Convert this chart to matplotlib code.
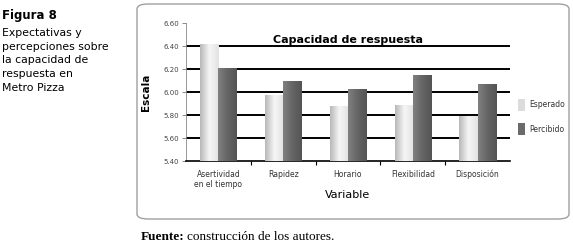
import numpy as np
import matplotlib
matplotlib.use('Agg')
import matplotlib.pyplot as plt
from matplotlib.patches import FancyBboxPatch, Rectangle
from matplotlib.colors import LinearSegmentedColormap

# Data
categorias = ['Asertividad\nen el tiempo', 'Rapidez', 'Horario', 'Flexibilidad', 'Disposición']
esperado = [6.42, 5.98, 5.88, 5.89, 5.79]
percibido = [6.21, 6.10, 6.03, 6.15, 6.07]
yticks = [5.40, 5.60, 5.80, 6.00, 6.20, 6.40, 6.60]

fig = plt.figure(figsize=(5.73, 2.46), dpi=100)
fig.patch.set_facecolor('white')

# rounded frame around the chart
frame = FancyBboxPatch((137 / 573, 1 - 219 / 246), 432 / 573, 215 / 246,
                       boxstyle='round,pad=0,rounding_size=0.02',
                       transform=fig.transFigure, facecolor='none',
                       edgecolor='#a0a0a0', linewidth=1.0, zorder=-1)
fig.patches.append(frame)

ax = fig.add_axes([186 / 573, 84.7 / 246, 324 / 573, 138 / 246])
ax.set_facecolor('none')

x = np.arange(len(categorias))
w = 0.28
light = LinearSegmentedColormap.from_list('l', ['#b8b8b8', '#f6f6f6', '#e2e2e2'])
dark = LinearSegmentedColormap.from_list('d', ['#808080', '#656565', '#545454'])

bars_e = ax.bar(x - w / 2, [v - 5.4 for v in esperado], w, bottom=5.4,
                color='#e0e0e0', zorder=3)
bars_p = ax.bar(x + w / 2, [v - 5.4 for v in percibido], w, bottom=5.4,
                color='#6a6a6a', zorder=3)

grad = np.linspace(0, 1, 64).reshape(1, -1)
for bars, cmap in ((bars_e, light), (bars_p, dark)):
    for b in bars:
        x0, y0 = b.get_x(), b.get_y()
        im = ax.imshow(grad, cmap=cmap, aspect='auto', zorder=4,
                       extent=[x0, x0 + b.get_width(), y0, y0 + b.get_height()])
        im.set_clip_path(b)

for g in yticks[1:-1]:
    ax.axhline(g, color='black', linewidth=1.4, zorder=2)

ax.set_xlim(-0.5, len(categorias) - 0.5)
ax.set_ylim(5.4, 6.6)
ax.set_yticks(yticks)
ax.set_yticklabels(['%.2f' % t for t in yticks], fontsize=5, color='#444444')
ax.set_xticks(x)
ax.set_xticklabels(categorias, fontsize=5.5, color='#333333')
ax.tick_params(axis='x', length=0, pad=6)
ax.tick_params(axis='y', length=3, width=0.6, color='#777777', pad=2)
ax.set_xticks(np.arange(0.5, len(categorias) - 1, 1), minor=True)
ax.tick_params(axis='x', which='minor', length=3, width=0.8, color='black', direction='out')

for s in ['top', 'right']:
    ax.spines[s].set_visible(False)
ax.spines['left'].set_color('#888888')
ax.spines['left'].set_linewidth(0.6)
ax.spines['bottom'].set_color('black')
ax.spines['bottom'].set_linewidth(1.2)

ax.set_ylabel('Escala', fontsize=7.5, fontweight='bold', labelpad=9)
ax.set_xlabel('Variable', fontsize=8, labelpad=1)
ax.text(0.5, 6.415, 'Capacidad de respuesta', transform=ax.get_yaxis_transform(),
        fontsize=8, fontweight='bold', ha='center', va='bottom', zorder=5)

# legend
lx = 518 / 573
fig.patches.append(Rectangle((lx, 1 - 111 / 246), 7 / 573, 12 / 246,
                             transform=fig.transFigure, facecolor='#dcdcdc', edgecolor='none'))
fig.patches.append(Rectangle((lx, 1 - 135 / 246), 7 / 573, 12 / 246,
                             transform=fig.transFigure, facecolor='#6a6a6a', edgecolor='none'))
fig.text(529 / 573, 1 - 105 / 246, 'Esperado', fontsize=5.5, va='center', color='#333333')
fig.text(529 / 573, 1 - 129 / 246, 'Percibido', fontsize=5.5, va='center', color='#333333')

# caption on the left
fig.text(2 / 573, 1 - 16 / 246, 'Figura 8', fontsize=8.5, fontweight='bold', va='center')
caption = ['Expectativas y', 'percepciones sobre', 'la capacidad de',
           'respuesta en', 'Metro Pizza']
for i, line in enumerate(caption):
    fig.text(2 / 573, 1 - (33 + 13.7 * i) / 246, line, fontsize=7.8, va='center')

fig.text(141 / 573, 1 - 237 / 246, 'Fuente:', fontsize=9.5, fontweight='bold',
         family='Liberation Serif', va='center')
fig.text(187 / 573, 1 - 237 / 246, 'construcción de los autores.', fontsize=9.5,
         family='Liberation Serif', va='center')

fig.savefig('out.png', dpi=100)
